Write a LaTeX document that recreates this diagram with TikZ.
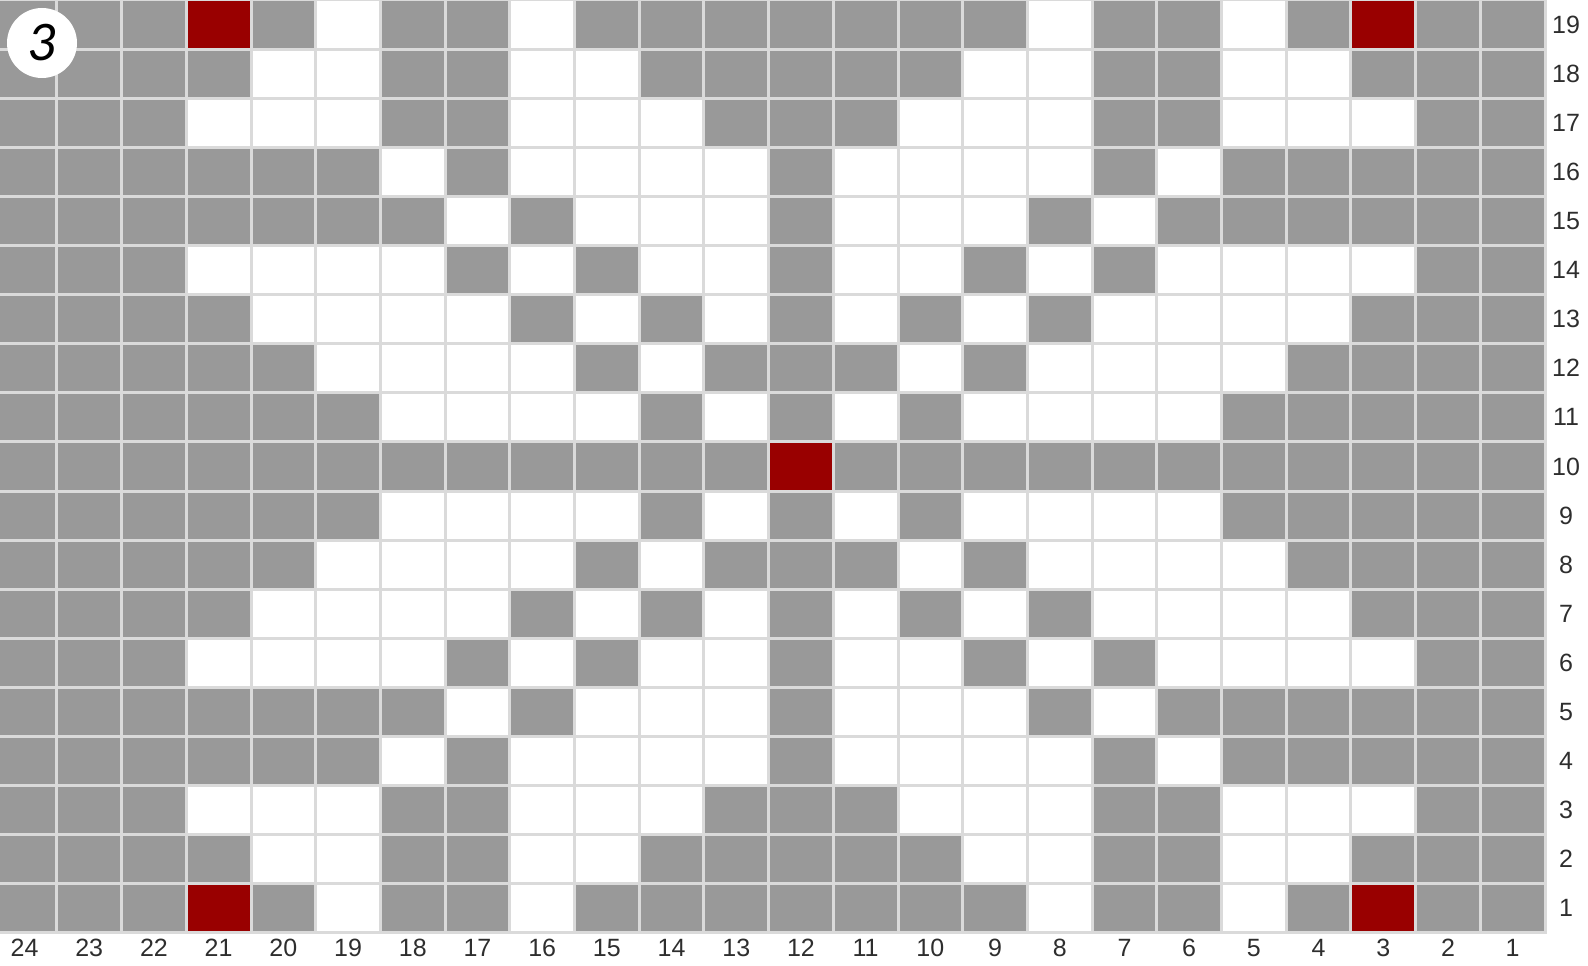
\documentclass[tikz,border=0pt]{standalone}
\usepackage{fontspec}
\setmainfont{Liberation Sans}
\newfontfamily\badgefont{Carlito}
\definecolor{cG}{HTML}{999999}
\definecolor{cW}{HTML}{FFFFFF}
\definecolor{cR}{HTML}{990000}
\definecolor{gridline}{HTML}{DADADA}
\definecolor{labelc}{HTML}{2E2E2E}
\def\rowa{G,G,G,R,G,W,G,G,W,G,G,G,G,G,G,G,W,G,G,W,G,R,G,G}
\def\rowb{G,G,G,G,W,W,G,G,W,W,G,G,G,G,G,W,W,G,G,W,W,G,G,G}
\def\rowc{G,G,G,W,W,W,G,G,W,W,W,G,G,G,W,W,W,G,G,W,W,W,G,G}
\def\rowd{G,G,G,G,G,G,W,G,W,W,W,W,G,W,W,W,W,G,W,G,G,G,G,G}
\def\rowe{G,G,G,G,G,G,G,W,G,W,W,W,G,W,W,W,G,W,G,G,G,G,G,G}
\def\rowf{G,G,G,W,W,W,W,G,W,G,W,W,G,W,W,G,W,G,W,W,W,W,G,G}
\def\rowg{G,G,G,G,W,W,W,W,G,W,G,W,G,W,G,W,G,W,W,W,W,G,G,G}
\def\rowh{G,G,G,G,G,W,W,W,W,G,W,G,G,G,W,G,W,W,W,W,G,G,G,G}
\def\rowi{G,G,G,G,G,G,W,W,W,W,G,W,G,W,G,W,W,W,W,G,G,G,G,G}
\def\rowj{G,G,G,G,G,G,G,G,G,G,G,G,R,G,G,G,G,G,G,G,G,G,G,G}
\newcommand\cellrow[2]{%
  \foreach \v [count=\i] in #2 {%
    \fill[c\v] ({-72.5+64.7*\i},{(19-#1)*49.1}) rectangle ++(64.7,49.1);
  }%
}
\begin{document}
\begin{tikzpicture}[x=1pt,y=-1pt,
  gridrule/.style={draw=gridline,line width=3pt},
  numlabel/.style={text=labelc,font=\fontsize{25}{30}\selectfont,inner sep=0pt,anchor=center},
  badge/.style={circle,fill=white,minimum size=70pt,inner sep=0pt,
    font=\badgefont\itshape\fontsize{56}{60}\selectfont}]
\useasboundingbox (0,0) rectangle (1588,966);
\fill[white] (0,0) rectangle (1588,966);
\begin{scope}
\clip (0,0) rectangle (1588,966);
\cellrow{19}{\rowa}
\cellrow{18}{\rowb}
\cellrow{17}{\rowc}
\cellrow{16}{\rowd}
\cellrow{15}{\rowe}
\cellrow{14}{\rowf}
\cellrow{13}{\rowg}
\cellrow{12}{\rowh}
\cellrow{11}{\rowi}
\cellrow{10}{\rowj}
\cellrow{9}{\rowi}
\cellrow{8}{\rowh}
\cellrow{7}{\rowg}
\cellrow{6}{\rowf}
\cellrow{5}{\rowe}
\cellrow{4}{\rowd}
\cellrow{3}{\rowc}
\cellrow{2}{\rowb}
\cellrow{1}{\rowa}
\foreach \k in {0,...,24} \draw[gridrule] ({1545-64.7*\k},0) -- ({1545-64.7*\k},932.9);
\foreach \j in {0,...,19} \draw[gridrule] (-10,{49.1*\j}) -- (1546.5,{49.1*\j});
\end{scope}
\foreach \r in {1,...,19}
  \node[numlabel] (rl\r) at (1566,{(19.5-\r)*49.1}) {\r};
\foreach \c in {1,...,24}
  \node[numlabel] (cl\c) at ({1545-64.7*(\c-0.5)},948) {\c};
\node[badge] (badge) at (42,43) {3};
\end{tikzpicture}
\end{document}
